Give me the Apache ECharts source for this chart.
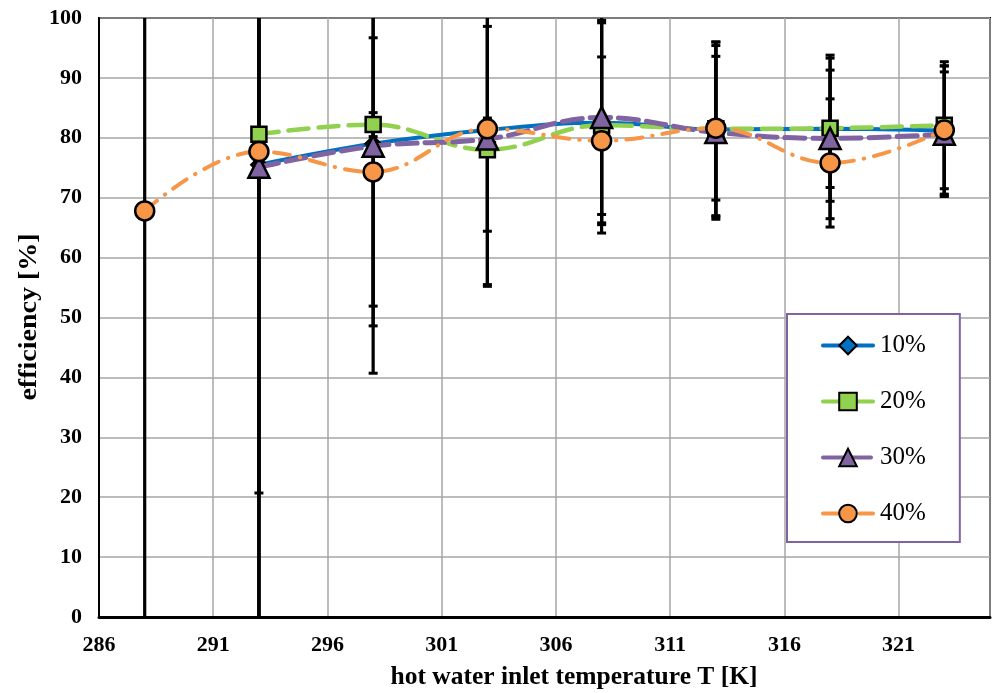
<!DOCTYPE html>
<html>
<head>
<meta charset="utf-8">
<script src="https://cdn.jsdelivr.net/npm/echarts@6/dist/echarts.min.js"></script>
<style>
html,body{margin:0;padding:0;background:#fff;}
#chart{width:993px;height:693px;}
</style>
</head>
<body>
<div id="chart"></div>
<script>
// ---- data ----
const temps = [288, 293, 298, 303, 308, 313, 318, 323];
const seriesNames = ['10%', '20%', '30%', '40%'];
const eff10 = [null, 75.5, 79.0, 81.3, 82.5, 81.4, 81.5, 81.2];
const eff20 = [null, 80.6, 82.2, 78.0, 82.1, 81.5, 81.6, 82.1];
const eff30 = [null, 75.1, 78.6, 79.8, 83.4, 80.9, 79.9, 80.6];
const eff40 = [67.8, 77.7, 74.3, 81.5, 79.5, 81.6, 75.8, 81.3];
// symmetric error (±) per point
const err10 = [null, 54.8, 38.3, 2.0, 16.7, 14.6, 9.8, 10.8];
const err20 = [null, 85.0, 2.0, 22.8, 18.0, 14.5, 12.2, 10.6];
const err30 = [null, 80.0, 30.0, 24.3, 16.2, 14.5, 13.4, 10.4];
const err40 = [75.0, 80.0, 22.4, 17.1, 14.0, 12.0, 10.7, 10.7];
const xTicksMin = 286, xTicksMax = 325, xStep = 5;
const yMin = 0, yMax = 100, yStep = 10;
const xTitle = 'hot water inlet temperature T [K]';
const yTitle = 'efficiency [%]';

const effAll = [eff10, eff20, eff30, eff40];
const errAll = [err10, err20, err30, err40];

const chart = echarts.init(document.getElementById('chart'), null, {renderer: 'canvas'});
const serif = '"Liberation Serif", "Times New Roman", serif';

const colors = ['#0070C0', '#92D050', '#8064A2', '#F79646'];
const symbols = ['diamond', 'rect', 'triangle', 'circle'];
const symSizes = [15, 15, 21, 19];
const dashTypes = ['solid', [20, 10], [20, 8], [16, 10, 0.5, 10]];
const widths = [4, 4.5, 5, 4];

const errData = [];
effAll.forEach((arr, s) => {
  arr.forEach((v, i) => {
    if (v != null && errAll[s][i] != null) errData.push([temps[i], v - errAll[s][i], v + errAll[s][i]]);
  });
});

function renderErr(params, api) {
  const x = api.value(0);
  const lo = api.value(1), hi = api.value(2);
  const loC = Math.max(lo, yMin), hiC = Math.min(hi, yMax);
  const p1 = api.coord([x, loC]);
  const p2 = api.coord([x, hiC]);
  const children = [{
    type: 'line', shape: {x1: p1[0], y1: p1[1], x2: p2[0], y2: p2[1]},
    style: {stroke: '#000', lineWidth: 3.2}
  }];
  const cw = 4.5;
  if (lo >= yMin) children.push({type: 'line', shape: {x1: p1[0]-cw, y1: p1[1], x2: p1[0]+cw, y2: p1[1]}, style: {stroke: '#000', lineWidth: 3}});
  if (hi <= yMax) children.push({type: 'line', shape: {x1: p2[0]-cw, y1: p2[1], x2: p2[0]+cw, y2: p2[1]}, style: {stroke: '#000', lineWidth: 3}});
  return {type: 'group', children};
}

const lineSeries = seriesNames.map((name, s) => ({
  name,
  type: 'line',
  z: 3 + s,
  smooth: 0.4,
  data: temps.map((t, i) => [t, effAll[s][i]]).filter(d => d[1] != null),
  symbol: symbols[s],
  symbolSize: symSizes[s],
  itemStyle: {color: colors[s], borderColor: '#000', borderWidth: 2.5},
  lineStyle: {color: colors[s], width: widths[s], type: dashTypes[s], cap: 'round'},
  emphasis: {disabled: true},
  animation: false
}));

const option = {
  animation: false,
  grid: {left: 99, right: 3, top: 18, bottom: 76, show: true, borderColor: '#000', borderWidth: 2},
  xAxis: {
    type: 'value', min: xTicksMin, max: xTicksMax, interval: xStep,
    axisLine: {show: true, lineStyle: {color: '#000', width: 3}},
    axisTick: {show: false},
    splitLine: {show: true, lineStyle: {color: '#a6a6a6', width: 1.5}},
    axisLabel: {color: '#000', fontFamily: serif, fontWeight: 'bold', fontSize: 22, margin: 17, showMaxLabel: false}
  },
  yAxis: {
    type: 'value', min: yMin, max: yMax, interval: yStep,
    axisLine: {show: true, lineStyle: {color: '#000', width: 2}},
    axisTick: {show: false},
    splitLine: {show: true, lineStyle: {color: '#a6a6a6', width: 1.5}},
    axisLabel: {color: '#000', fontFamily: serif, fontWeight: 'bold', fontSize: 22, margin: 17}
  },
  legend: {
    data: seriesNames,
    orient: 'vertical',
    left: 787, top: 314,
    padding: [19, 34, 16, 34],
    itemGap: 31,
    itemWidth: 50, itemHeight: 22,
    borderColor: '#8064A2', borderWidth: 2,
    backgroundColor: '#fff',
    lineStyle: {width: 4},
    textStyle: {color: '#000', fontFamily: serif, fontSize: 25, lineHeight: 22, padding: [0, 0, 0, 2]}
  },
  graphic: [
    {type: 'text', x: 574, y: 677, style: {text: xTitle, font: 'bold 25.5px ' + serif, fill: '#000', align: 'center', verticalAlign: 'middle'}},
    {type: 'text', rotation: Math.PI / 2, x: 30, y: 317, scaleX: 1.12, style: {text: yTitle, font: 'bold 25px ' + serif, fill: '#000', align: 'center', verticalAlign: 'middle'}}
  ],
  series: [
    {
      type: 'custom', name: 'err', z: 2, data: errData, renderItem: renderErr,
      encode: {x: 0, y: [1, 2]}, silent: true, animation: false
    },
    ...lineSeries
  ]
};
chart.setOption(option);
</script>
</body>
</html>
